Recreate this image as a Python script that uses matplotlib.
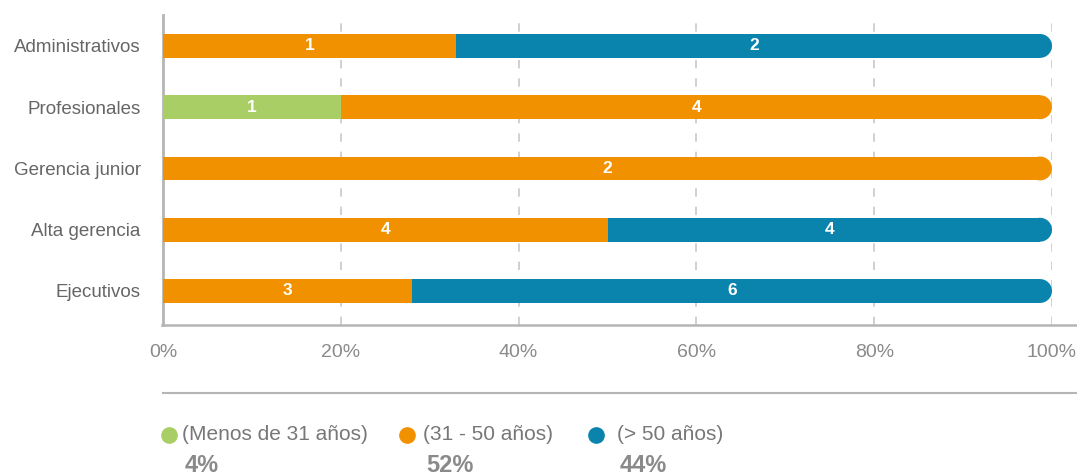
import matplotlib
matplotlib.use("Agg")
import matplotlib.pyplot as plt
from matplotlib.lines import Line2D
from matplotlib.patches import Ellipse

plt.rcParams['font.family'] = ['Liberation Sans', 'DejaVu Sans']

categorias = ['Administrativos', 'Profesionales', 'Gerencia junior', 'Alta gerencia', 'Ejecutivos']
grupos = ['(Menos de 31 años)', '(31 - 50 años)', '(> 50 años)']
colores = ['#A9CE66', '#F29100', '#0A84AD']
# share of each bar (%)
verde = [0, 20, 0, 0, 0]
naranja = [33, 80, 100, 50, 28]
azul = [67, 0, 0, 50, 72]
# counts shown inside the bars
n_verde = [0, 1, 0, 0, 0]
n_naranja = [1, 4, 2, 4, 3]
n_azul = [2, 0, 0, 4, 6]
totales = ['4%', '52%', '44%']
ticks = [0, 20, 40, 60, 80, 100]

fig = plt.figure(figsize=(10.77, 4.74), dpi=100)
W, H = 1077, 474
ax = fig.add_axes([163 / W, 1 - 325 / H, (1052 - 163) / W, (325 - 15) / H])

ys = list(range(len(categorias)))
alto = 0.39
r = 12 / 889 * 100  # cap radius in data units

series = [(verde, n_verde), (naranja, n_naranja), (azul, n_azul)]
for i in ys:
    izq = 0
    ultimo = max(k for k in range(3) if series[k][0][i] > 0)
    for k, (vals, cnts) in enumerate(series):
        v = vals[i]
        if v <= 0:
            continue
        ancho = v - r if k == ultimo else v
        ax.barh(i, ancho, left=izq, height=alto, color=colores[k], linewidth=0, zorder=3)
        if k == ultimo:
            # rounded right end
            ax.add_patch(Ellipse((izq + v - r, i), 2 * r, alto, color=colores[k],
                                 linewidth=0, zorder=3))
        ax.text(izq + v / 2, i, str(cnts[i]), ha='center', va='center', color='white',
                fontsize=12.5, fontweight='bold', zorder=4)
        izq += v

ax.set_xlim(0, 100)
ax.set_ylim(4.555, -0.505)
ax.set_yticks(ys)
ax.set_yticklabels(categorias, fontsize=13.5, color='#666666')
ax.set_xticks(ticks)
ax.set_xticklabels([f'{t}%' for t in ticks], fontsize=14, color='#8a8a8a')
ax.tick_params(length=0)
ax.tick_params(axis='x', pad=14)
ax.tick_params(axis='y', pad=16)
for t in ticks[1:]:
    ax.axvline(t, color='#c8c8c8', lw=1.2, ls=(0, (5, 6)), zorder=1)
for s in ['top', 'right', 'bottom']:
    ax.spines[s].set_visible(False)
ax.spines['left'].set_color('#b5b5b5')
ax.spines['left'].set_linewidth(2)

# bottom rule and separator line running to the right edge
fig.add_artist(Line2D([162 / W, 1], [1 - 325 / H] * 2, color='#b5b5b5', lw=1.8))
fig.add_artist(Line2D([163 / W, 1], [1 - 393 / H] * 2, color='#b5b5b5', lw=1.5))

# legend
x_marca = [169, 407, 596]
x_texto = [182, 423, 617]
for xm, xt, g, c, p in zip(x_marca, x_texto, grupos, colores, totales):
    fig.add_artist(Line2D([xm / W], [1 - 435 / H], marker='o', markersize=11,
                          color=c, linestyle='none'))
    fig.text(xt / W, 1 - 435 / H, g, fontsize=15, color='#777777', va='center')
    fig.text((xt + 3) / W, 1 - 465 / H, p, fontsize=17, color='#8a8a8a',
             fontweight='bold', va='center')

fig.savefig('out.png', dpi=100)
